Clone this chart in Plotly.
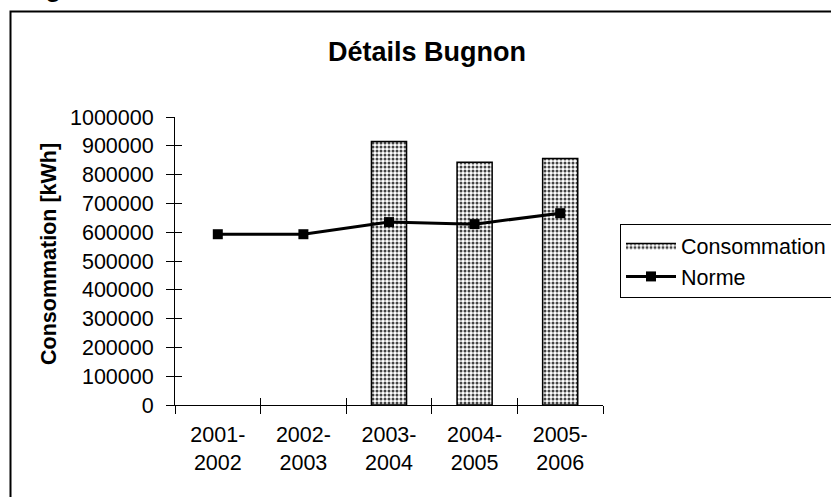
import plotly.graph_objects as go

categories = ["2001-<br>2002", "2002-<br>2003", "2003-<br>2004", "2004-<br>2005", "2005-<br>2006"]
consommation = [None, None, 915000, 843000, 856000]
norme = [593000, 593000, 635000, 628000, 666000]
y_ticks = list(range(0, 1000001, 100000))

W, H = 831, 497
L, R, T, B = 175, 228, 117, 92
pw, ph = W - L - R, H - T - B

def px_x(x):
    return (x - L) / pw

def px_y(y):
    return (H - B - y) / ph

FONT = "Liberation Sans, Arial, sans-serif"
FS = 21.5
PATTERN = dict(shape=".", fgcolor="#444444", bgcolor="#ffffff", size=4, solidity=0.45,
               fillmode="replace")

fig = go.Figure()
fig.add_trace(go.Bar(
    x=categories, y=consommation, name="Consommation", showlegend=False,
    marker=dict(color="white", line=dict(color="black", width=1.5), pattern=PATTERN),
))
# legend entry with a wide rectangular patterned swatch
fig.add_trace(go.Scatter(
    x=[None], y=[None], name="Consommation", mode="lines", fill="toself",
    fillcolor="white", fillpattern=PATTERN, line=dict(color="black", width=1.5),
    showlegend=True, hoverinfo="skip",
))
fig.add_trace(go.Scatter(
    x=categories, y=norme, name="Norme", mode="lines+markers",
    line=dict(color="black", width=3),
    marker=dict(symbol="square", size=10, color="black"),
))

fig.update_layout(
    width=W, height=H,
    margin=dict(l=L, r=R, t=T, b=B, autoexpand=False),
    paper_bgcolor="white", plot_bgcolor="white",
    font=dict(family=FONT, size=FS, color="black"),
    bargap=0.59,
    showlegend=True,
    legend=dict(x=px_x(620), y=px_y(224), xanchor="left", yanchor="top",
                bordercolor="black", borderwidth=1, bgcolor="white",
                font=dict(size=FS), itemwidth=50, tracegroupgap=0,
                traceorder="normal"),
    xaxis=dict(type="category", range=[-0.5, 4.5], showline=True, linecolor="black",
               linewidth=1, ticks="outside", ticklen=8, tickcolor="black",
               tickson="boundaries", showgrid=False, ticklabelstandoff=10),
    yaxis=dict(range=[0, 1000000], tickvals=y_ticks, tickformat="d", showline=True,
               linecolor="black", linewidth=1, ticks="outside", ticklen=8,
               tickcolor="black", showgrid=False, zeroline=False, ticklabelstandoff=8),
    xaxis2=dict(overlaying="x", range=[-0.5, 4.5], tickvals=[-0.5, 0.5, 1.5, 2.5, 3.5, 4.5],
                ticks="inside", ticklen=7, tickcolor="black", showticklabels=False,
                showgrid=False, zeroline=False, showline=False, side="bottom"),
    yaxis2=dict(overlaying="y", range=[0, 1000000], tickvals=y_ticks, ticks="inside",
                ticklen=7, tickcolor="black", showticklabels=False, showgrid=False,
                zeroline=False, showline=False, side="left"),
)
# invisible trace to activate overlay axes
fig.add_trace(go.Scatter(x=[0], y=[0], xaxis="x2", yaxis="y2", mode="markers",
                         marker=dict(opacity=0), showlegend=False, hoverinfo="skip"))

fig.add_annotation(text="<b>Détails Bugnon</b>", xref="paper", yref="paper",
                   x=px_x(427), y=px_y(52), xanchor="center", yanchor="middle",
                   showarrow=False, font=dict(size=27))
fig.add_annotation(text="<b>Consommation [kWh]</b>", xref="paper", yref="paper",
                   x=px_x(49), y=px_y(254), xanchor="center", yanchor="middle",
                   textangle=-90, showarrow=False, font=dict(size=FS))
# cut-off caption letter at the very top (as in the reference)
fig.add_annotation(text="<b>g</b>", xref="paper", yref="paper",
                   x=px_x(53), y=px_y(3), xanchor="center", yanchor="bottom",
                   showarrow=False, font=dict(size=27), borderpad=0)

fig.add_shape(type="rect", xref="paper", yref="paper",
              x0=px_x(10.5), y0=px_y(520), x1=px_x(860), y1=px_y(11.5),
              line=dict(color="black", width=2), layer="below")

fig.write_html("out.html")
